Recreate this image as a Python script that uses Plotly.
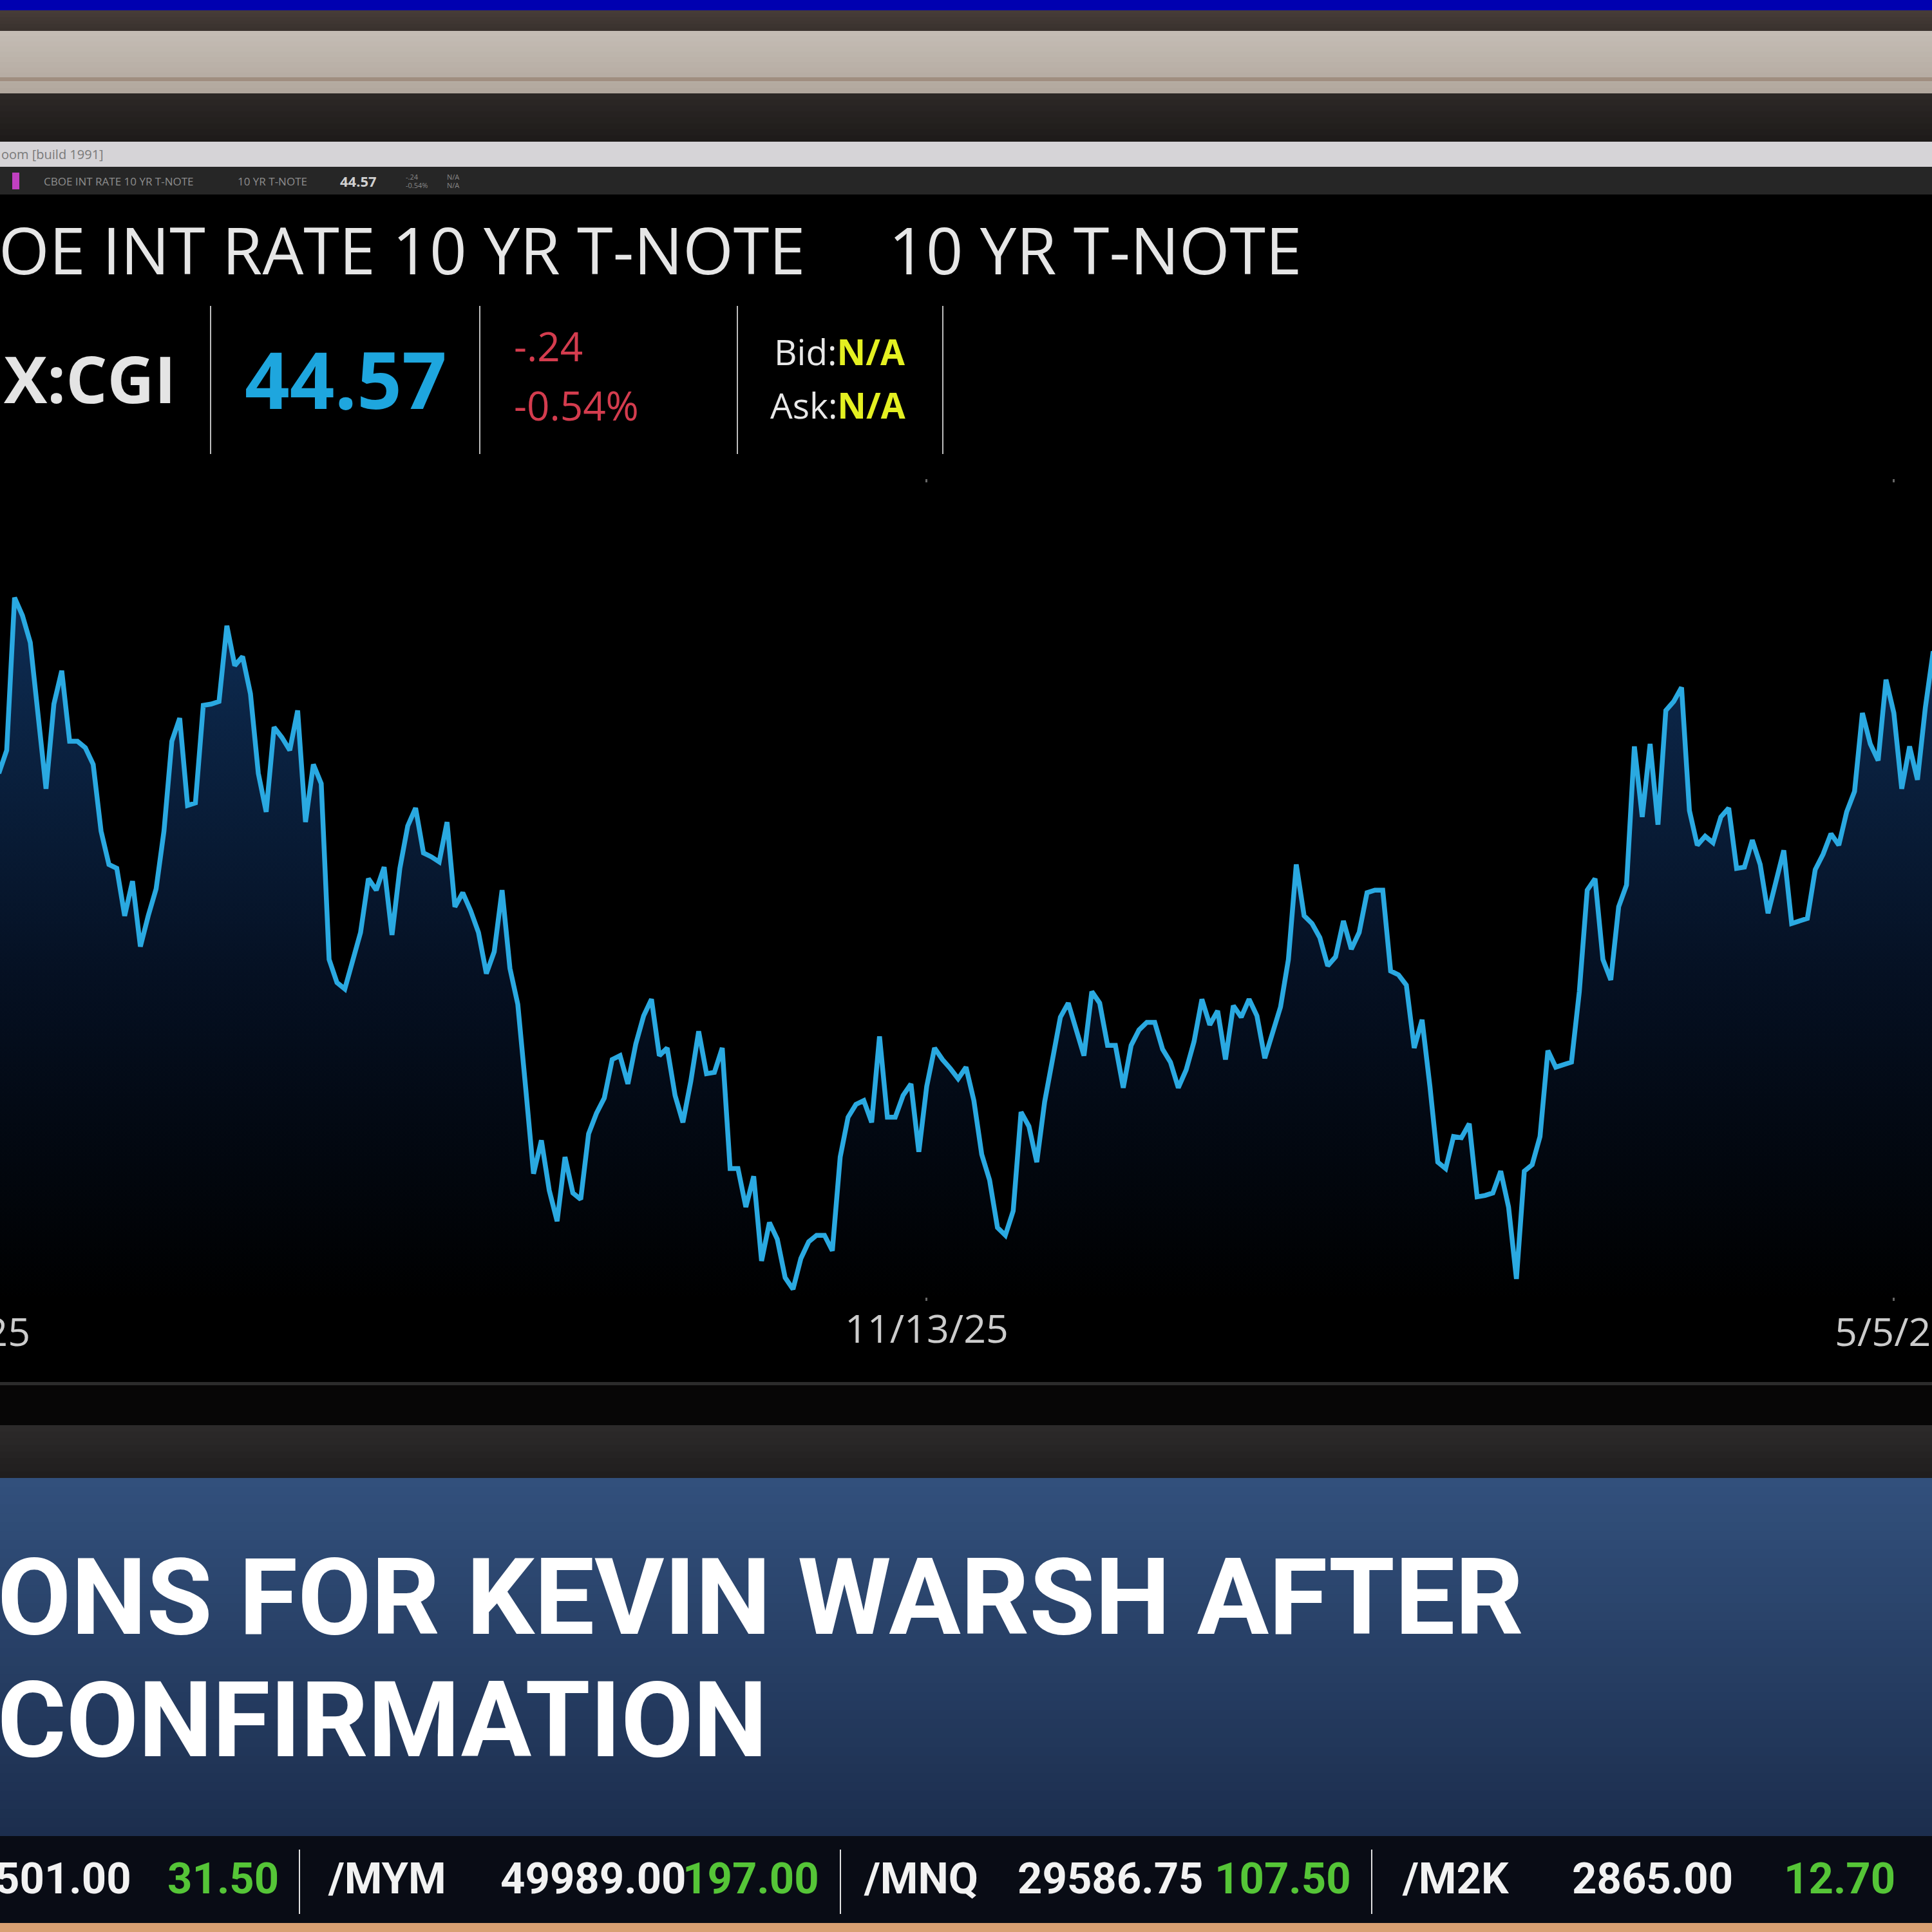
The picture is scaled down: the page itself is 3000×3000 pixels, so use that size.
import pandas as pd
import plotly.graph_objects as go

# ---------------- data ----------------
start_date = "2025-06-02"
values = [
    43.72, 43.90, 45.09, 44.95, 44.74, 44.18, 43.60, 44.26, 44.52, 43.97,
    43.97, 43.92, 43.79, 43.27, 43.01, 42.98, 42.61, 42.88, 42.37, 42.61,
    42.82, 43.27, 43.97, 44.15, 43.47, 43.49, 44.25, 44.26, 44.28, 44.87,
    44.56, 44.63, 44.34, 43.72, 43.42, 44.08, 44.00, 43.90, 44.21, 43.34,
    43.79, 43.64, 42.27, 42.09, 42.04, 42.26, 42.48, 42.90, 42.81, 42.99,
    42.46, 42.98, 43.31, 43.45, 43.10, 43.07, 43.03, 43.34, 42.68, 42.79,
    42.65, 42.48, 42.16, 42.33, 42.81, 42.20, 41.92, 41.27, 40.60, 40.86,
    40.47, 40.23, 40.73, 40.45, 40.40, 40.91, 41.07, 41.19, 41.49, 41.52,
    41.30, 41.61, 41.83, 41.96, 41.52, 41.58, 41.21, 41.00, 41.32, 41.71,
    41.38, 41.39, 41.58, 40.64, 40.64, 40.34, 40.58, 39.92, 40.22, 40.09,
    39.79, 39.70, 39.94, 40.07, 40.12, 40.12, 40.00, 40.73, 41.04, 41.14,
    41.17, 41.00, 41.67, 41.04, 41.04, 41.21, 41.30, 40.77, 41.28, 41.58,
    41.49, 41.42, 41.34, 41.43, 41.17, 40.75, 40.55, 40.18, 40.12, 40.31,
    41.08, 40.97, 40.69, 41.16, 41.50, 41.82, 41.93, 41.71, 41.52, 42.02,
    41.93, 41.60, 41.60, 41.27, 41.60, 41.72, 41.78, 41.78, 41.57, 41.47,
    41.27, 41.41, 41.63, 41.96, 41.76, 41.87, 41.49, 41.91, 41.82, 41.96,
    41.83, 41.50, 41.69, 41.90, 42.27, 43.01, 42.61, 42.55, 42.44, 42.22,
    42.29, 42.57, 42.35, 42.48, 42.79, 42.81, 42.81, 42.18, 42.15, 42.07,
    41.58, 41.80, 41.28, 40.69, 40.64, 40.89, 40.88, 40.99, 40.42, 40.43,
    40.45, 40.62, 40.34, 39.78, 40.62, 40.67, 40.89, 41.56, 41.43, 41.45,
    41.47, 42.02, 42.81, 42.90, 42.27, 42.11, 42.68, 42.85, 43.93, 43.38,
    43.95, 43.32, 44.21, 44.28, 44.39, 43.43, 43.16, 43.23, 43.18, 43.38,
    43.45, 42.98, 42.99, 43.20, 43.01, 42.63, 42.88, 43.12, 42.55, 42.57,
    42.59, 42.97, 43.09, 43.25, 43.16, 43.42, 43.58, 44.19, 43.95, 43.82,
    44.45, 44.19, 43.60, 43.93, 43.67, 44.23, 44.67, 44.57,
]
dates = pd.bdate_range(start=start_date, periods=len(values))

tick_dates = ["2025-05-26", "2025-11-13", "2026-05-05"]
tick_labels = ["5/26/25", "11/13/25", "5/5/26"]
x_range = ["2025-06-02 03:32", "2026-05-11 20:24"]
y_range = [39.639, 45.983]

header_left = "OE INT RATE 10 YR T-NOTE"
header_right = "10 YR T-NOTE"
symbol = "X:CGI"
last_price = "44.57"
net_change = "-.24"
pct_change = "-0.54%"
headline_1 = "ONS FOR KEVIN WARSH AFTER"
headline_2 = "CONFIRMATION"
ticker_items = [
    ("501.00", "white"), ("31.50", "green"), ("/MYM", "white"), ("49989.00", "white"),
    ("197.00", "green"), ("/MNQ", "white"), ("29586.75", "white"), ("107.50", "green"),
    ("/M2K", "white"), ("2865.00", "white"), ("12.70", "green"),
]

# ---------------- helpers ----------------
W = H = 3000
def px(x):
    return x / W
def py(y):
    return 1 - y / H

shapes = []
def rect(x0, y0, x1, y1, color, layer="below"):
    shapes.append(dict(type="rect", xref="paper", yref="paper", x0=px(x0), x1=px(x1),
                       y0=py(y1), y1=py(y0), fillcolor=color, line=dict(width=0), layer=layer))
def vline(x, y0, y1, color, width):
    shapes.append(dict(type="line", xref="paper", yref="paper", x0=px(x), x1=px(x),
                       y0=py(y1), y1=py(y0), line=dict(color=color, width=width), layer="above"))
def vgrad(x0, y0, x1, y1, c0, c1, n=24):
    step = (y1 - y0) / n
    for i in range(n):
        t = i / (n - 1)
        c = tuple(round(c0[k] + (c1[k] - c0[k]) * t) for k in range(3))
        rect(x0, y0 + i * step, x1, y0 + (i + 1) * step + 1, "rgb(%d,%d,%d)" % c)

annotations = []
def txt(s, x, y, size, color, family="Open Sans", xanchor="left", weight="normal"):
    annotations.append(dict(text=s, xref="paper", yref="paper", x=px(x), y=py(y),
                            xanchor=xanchor, yanchor="middle", showarrow=False,
                            font=dict(family=family, size=size, color=color, weight=weight)))

# ---------------- background bands ----------------
rect(0, 0, 3000, 16, "#0000b0")
vgrad(0, 16, 3000, 48, (70, 60, 56), (58, 50, 46), n=6)
vgrad(0, 48, 3000, 145, (196, 188, 180), (178, 168, 158), n=12)
rect(0, 120, 3000, 126, "#a08e80")
vgrad(0, 145, 3000, 220, (44, 40, 38), (30, 27, 26), n=8)
rect(0, 220, 3000, 259, "#d6d4d7")
rect(0, 259, 3000, 302, "#262626")
rect(0, 302, 3000, 2146, "#000000")
rect(0, 2146, 3000, 2151, "#2c2c2c")
rect(0, 2151, 3000, 2213, "#070606")
vgrad(0, 2213, 3000, 2295, (44, 42, 42), (32, 30, 30), n=8)
vgrad(0, 2295, 3000, 2851, (50, 80, 124), (28, 46, 78), n=40)
rect(0, 2851, 3000, 2986, "#090c15")
rect(0, 2986, 3000, 3000, "#d8a072")

# toolbar bits
rect(19, 268, 30, 294, "#c040c0", layer="above")
txt("oom [build 1991]", 0, 240, 20, "#7a7a7a")
txt("CBOE INT RATE 10 YR T-NOTE", 66, 281, 17, "#8d8d8d")
txt("10 YR T-NOTE", 367, 281, 17, "#8d8d8d")
txt("44.57", 526, 281, 22, "#d0d0d0", weight="bold")
txt("-.24", 628, 274, 11, "#888888")
txt("-0.54%", 628, 288, 11, "#888888")
txt("N/A", 692, 274, 11, "#888888")
txt("N/A", 692, 288, 11, "#888888")

# header
txt(header_left, -4, 387, 101, "#e6e6e6")
txt(header_right, 1378, 387, 101, "#e6e6e6")
txt(symbol, 4, 587, 101, "#e4e4e4", weight="bold")
for xs in [327, 745, 1145, 1464]:
    vline(xs, 475, 705, "#bdbdbd", 2)
txt(last_price, 378, 588, 122, "#1ea6de", weight="bold")
txt(net_change, 796, 537, 62, "#d43c4e")
txt(pct_change, 796, 629, 62, "#d43c4e")
txt("Bid:<span style='color:#e4f021'><b>N/A</b></span>", 1200, 546, 55, "#e8e8e8")
txt("Ask:<span style='color:#e4f021'><b>N/A</b></span>", 1194, 628, 55, "#e8e8e8")

# headline
txt(headline_1, -6, 2480, 166, "#ffffff", family="Roboto", weight="bold")
txt(headline_2, -6, 2671, 163, "#ffffff", family="Roboto", weight="bold")

# ticker
ticker_x = [-10, 258, 507, 775, 1058, 1339, 1578, 1884, 2175, 2439, 2768]
colors = {"white": "#f2f2f2", "green": "#55c537"}
for (s, c), xx in zip(ticker_items, ticker_x):
    txt(s, xx, 2917, 67, colors[c], family="Roboto", weight="bold")
for xs in [465, 1305, 2130]:
    vline(xs, 2872, 2972, "#e0e0e0", 2)

# ---------------- figure ----------------
fig = go.Figure()
fig.add_trace(go.Scatter(
    x=dates, y=values, mode="lines",
    line=dict(color="#2aa9e1", width=7.5),
    fill="tozeroy",
    fillgradient=dict(type="vertical", start=39.6, stop=45.2,
                      colorscale=[[0, "rgb(0,0,0)"], [0.45, "rgb(5,16,34)"], [1, "rgb(14,46,86)"]]),
    hoverinfo="skip",
))

fig.update_layout(
    width=W, height=H, margin=dict(l=0, r=0, t=0, b=0, autoexpand=False),
    paper_bgcolor="#000000", plot_bgcolor="rgba(0,0,0,0)", showlegend=False,
    xaxis=dict(domain=[0, 1], range=x_range, type="date", automargin=False,
               rangebreaks=[dict(bounds=["sat", "mon"])],
               tickvals=tick_dates, ticktext=tick_labels,
               tickfont=dict(family="Open Sans", size=61, color="#cccccc"),
               ticklabelstandoff=-8,
               showgrid=False, zeroline=False, showline=False,
               ticks="outside", ticklen=5, tickwidth=3, tickcolor="#666666", mirror="ticks"),
    yaxis=dict(domain=[py(2014), py(750)], range=y_range, visible=False, automargin=False),
    shapes=shapes, annotations=annotations,
)
# edge tick labels that the axis would hide (they run past the figure edges)
fig.add_annotation(text=tick_labels[0], xref="paper", yref="paper", x=px(-63), y=py(2066),
                   xanchor="center", yanchor="middle", showarrow=False,
                   font=dict(family="Open Sans", size=61, color="#cccccc"))
fig.add_annotation(text=tick_labels[2], xref="x", yref="paper", x=tick_dates[2], y=py(2066),
                   xanchor="center", yanchor="middle", showarrow=False,
                   font=dict(family="Open Sans", size=61, color="#cccccc"))

fig.write_html("out.html")
